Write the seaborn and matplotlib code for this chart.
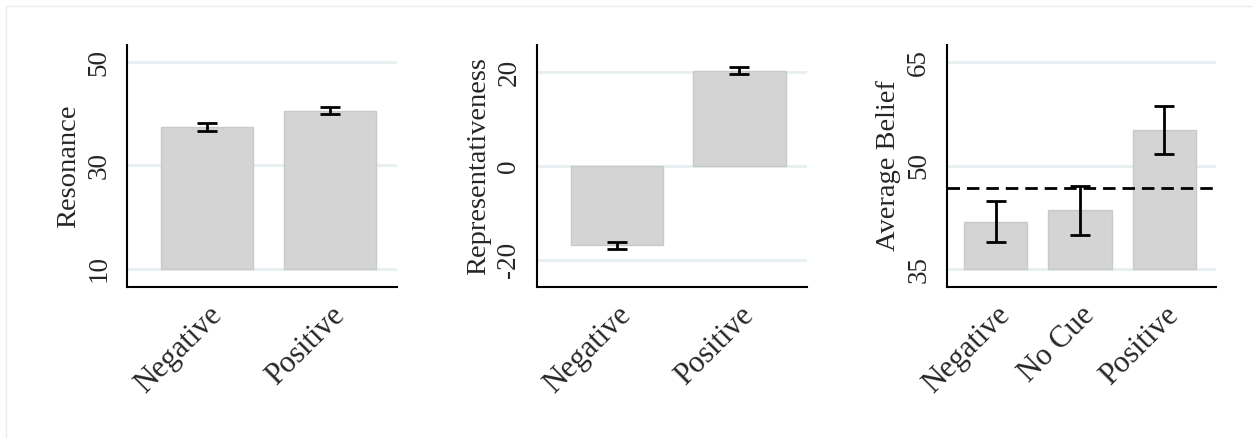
import numpy as np
import pandas as pd
import matplotlib
matplotlib.use("Agg")
import matplotlib.pyplot as plt
import seaborn as sns
from matplotlib.patches import Rectangle

"""
Values read off the reference chart
"""
cues_two = ['Negative', 'Positive']
cues_three = ['Negative', 'No Cue', 'Positive']

resonance_mean = [37.4, 40.5]
resonance_lo = [36.7, 39.9]
resonance_hi = [38.3, 41.4]

repr_mean = [-16.8, 20.2]
repr_lo = [-17.7, 19.6]
repr_hi = [-16.1, 21.0]

belief_mean = [41.8, 43.5, 55.1]
belief_lo = [39.0, 40.0, 51.7]
belief_hi = [44.9, 47.1, 58.6]
belief_ref = 46.7

sns.set_style('white')
plt.rcParams['font.family'] = 'serif'
plt.rcParams['font.serif'] = ['Liberation Serif', 'DejaVu Serif']

bar_color = '#d4d4d4'
grid_color = '#e6eff1'

fig = plt.figure(figsize=(12.52, 4.38), dpi=100)

# faint outer frame like the original export
fig.patches.append(Rectangle((6/1252, -0.1), 1.2, 0.1 + (438-6)/438, transform=fig.transFigure,
                             fill=False, edgecolor='#ececec', linewidth=1))

panels = [
    dict(pos=[0.1014, 0.3447, 0.2157, 0.5526], cats=cues_two, mean=resonance_mean, lo=resonance_lo,
         hi=resonance_hi, base=10, ylim=(6.5, 53.3), ticks=[10, 30, 50], label='Resonance', xlim=(-0.65, 1.545)),
    dict(pos=[0.4287, 0.3447, 0.2157, 0.5526], cats=cues_two, mean=repr_mean, lo=repr_lo,
         hi=repr_hi, base=0, ylim=(-25.8, 25.8), ticks=[-20, 0, 20], label='Representativeness', xlim=(-0.65, 1.548)),
    dict(pos=[0.7561, 0.3447, 0.2151, 0.5526], cats=cues_three, mean=belief_mean, lo=belief_lo,
         hi=belief_hi, base=35, ylim=(32.4, 67.5), ticks=[35, 50, 65], label='Average Belief', xlim=(-0.58, 2.61)),
]

for p in panels:
    ax = fig.add_axes(p['pos'])
    df = pd.DataFrame({'cue': p['cats'], 'mean': p['mean'], 'lo': p['lo'], 'hi': p['hi']})
    for t in p['ticks']:
        ax.axhline(t, color=grid_color, linewidth=2, zorder=0)
    sns.barplot(data=df, x='cue', y=df['mean'] - p['base'], bottom=p['base'], color=bar_color,
                saturation=1, width=0.75, edgecolor='#c9c9c9', linewidth=1, errorbar=None, ax=ax, zorder=2)
    x = np.arange(len(df))
    ax.errorbar(x, df['mean'], yerr=[df['mean'] - df['lo'], df['hi'] - df['mean']], fmt='none',
                ecolor='black', elinewidth=2, capsize=7, capthick=2, zorder=3)
    if p['label'] == 'Average Belief':
        ax.axhline(belief_ref, color='black', linestyle=(0, (4.5, 2.5)), linewidth=2, zorder=4)
    ax.set_xlim(*p['xlim'])
    ax.set_ylim(*p['ylim'])
    ax.set_yticks(p['ticks'])
    ax.set_yticklabels([str(t) for t in p['ticks']], rotation=90, va='center', fontsize=19.5)
    ax.set_xticks(x)
    ax.set_xticklabels(df['cue'], rotation=45, ha='right', rotation_mode='anchor', fontsize=22)
    ax.set_xlabel('')
    ax.set_ylabel(p['label'], fontsize=20.5, labelpad=4)
    ax.tick_params(axis='both', direction='out', length=8, width=1.2, color='black', pad=3)
    ax.tick_params(axis='x', pad=2)
    for s in ['top', 'right']:
        ax.spines[s].set_visible(False)
    for s in ['left', 'bottom']:
        ax.spines[s].set_color('black')
        ax.spines[s].set_linewidth(1.5)
    ax.set_facecolor('white')

fig.savefig('out.png', dpi=100, facecolor='white')
